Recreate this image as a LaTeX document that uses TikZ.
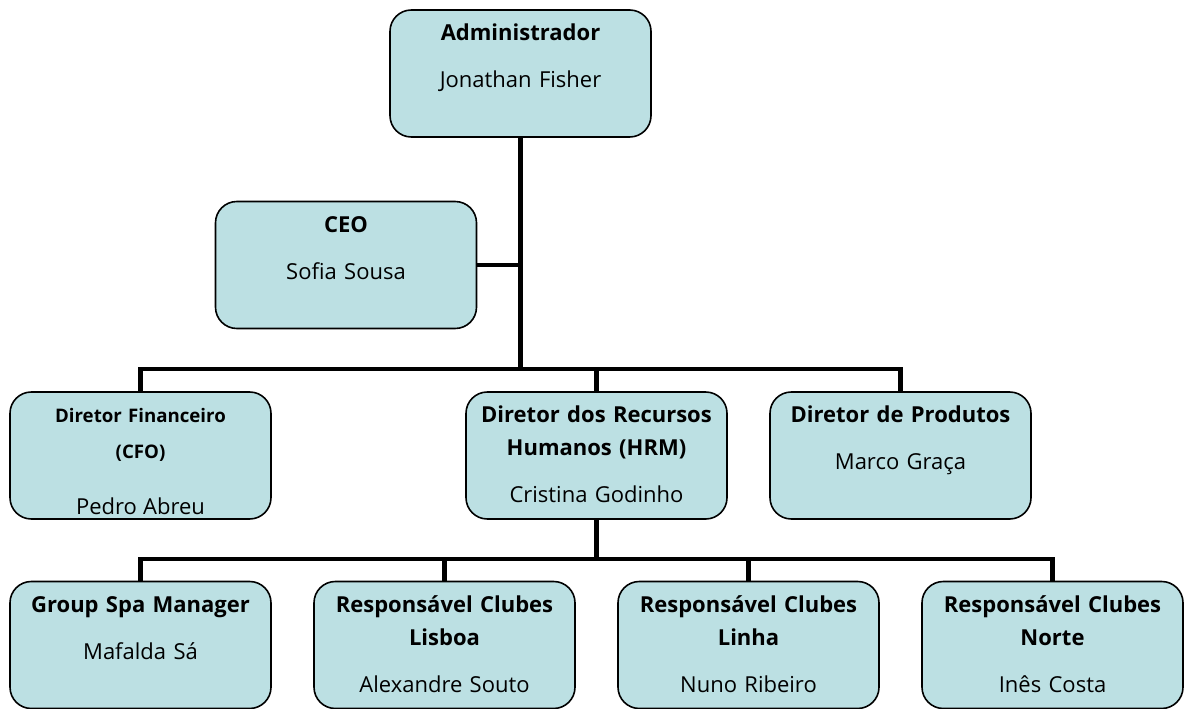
\documentclass[tikz,border=0pt]{standalone}
\usepackage{fontspec}
\setmainfont{Open Sans}
\usepackage{tikz}
\usetikzlibrary{positioning,calc}
\definecolor{bx}{HTML}{BCE0E3}
\definecolor{ln}{HTML}{000000}

\begin{document}
\begin{tikzpicture}[x=0.75pt,y=-0.75pt,
  unit/.style={draw=ln,fill=bx,line width=1.2pt,rounded corners=16pt,inner sep=0pt,outer sep=0pt,
    minimum width=195.75pt,minimum height=95.25pt,text width=195.75pt,align=center,
    text height=23pt,text depth=72.25pt,font=\fontsize{16.5}{20}\selectfont},
  link/.style={draw=ln,line width=3.6pt}]
\useasboundingbox (0,0) rectangle (1184,709);
% top
\node[unit](adm) at (520.5,73.5){\textbf{Administrador}\\[15.25pt]Jonathan Fisher};
\node[unit](ceo) at (346,265){\textbf{CEO}\\[15.25pt]Sofia Sousa};
% directors
\node[unit](hrm) at (596.5,455.5){\textbf{Diretor dos Recursos}\\[4.75pt]\textbf{Humanos (HRM)}\\[15.25pt]Cristina Godinho};
\node[unit,left=146.25pt of hrm,font=\fontsize{14}{20}\selectfont](cfo){\textbf{Diretor Financeiro}\\[7pt]\textbf{(CFO)}\\[22pt]{\fontsize{16.5}{20}\selectfont Pedro Abreu}};
\node[unit,right=32.25pt of hrm](prod){\textbf{Diretor de Produtos}\\[15.25pt]Marco Graça};
% clubs
\node[unit](spa) at (140.5,645){\textbf{Group Spa Manager}\\[15.25pt]Mafalda Sá};
\node[unit,right=32.25pt of spa](lis){\textbf{Responsável Clubes}\\[4.75pt]\textbf{Lisboa}\\[15.25pt]Alexandre Souto};
\node[unit,right=32.25pt of lis](lin){\textbf{Responsável Clubes}\\[4.75pt]\textbf{Linha}\\[15.25pt]Nuno Ribeiro};
\node[unit,right=32.25pt of lin](nor){\textbf{Responsável Clubes}\\[4.75pt]\textbf{Norte}\\[15.25pt]Inês Costa};
\coordinate(hub) at ($(adm.south)+(0,232)$);
\coordinate(hub2) at ($(hrm.south)+(0,40)$);
\draw[link](adm.south)--(hub);
\draw[link](ceo.east)--(ceo.east-|adm.south);
\draw[link](cfo.north)|-(hub)-|(prod.north);
\draw[link](hrm.north)--(hrm.north|-hub);
\draw[link](spa.north)|-(hub2)-|(nor.north);
\draw[link](hrm.south)--(hub2);
\foreach \k in {lis,lin}
  \draw[link](\k.north)--(\k.north|-hub2);
\end{tikzpicture}
\end{document}
